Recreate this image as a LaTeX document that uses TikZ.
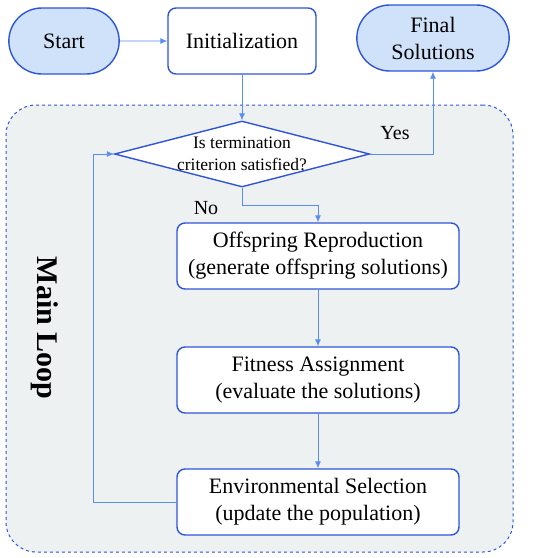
\documentclass[tikz,border=0pt]{standalone}
\usepackage{fontspec}
\setmainfont{Liberation Serif}
\newfontfamily\boxfont{Liberation Serif}
\usetikzlibrary{shapes.geometric,shapes.misc,arrows.meta,positioning}
\definecolor{boxblue}{HTML}{2E55D8}
\definecolor{flowblue}{HTML}{5A8CF5}
\definecolor{termfill}{HTML}{CFE2FA}
\definecolor{loopgray}{HTML}{EDF1F2}
\begin{document}
\begin{tikzpicture}[x=1pt,y=-1pt,
  term/.style={rounded rectangle, draw=boxblue, line width=1.4pt, fill=termfill,
    minimum height=66pt, align=center, font=\boxfont\fontsize{22}{27}\selectfont},
  proc/.style={rectangle, rounded corners=8pt, draw=boxblue, line width=1.4pt, fill=white,
    minimum height=66pt, align=center, font=\boxfont\fontsize{22}{27}\selectfont},
  flow/.style={draw=flowblue, line width=0.9pt, -{Latex[length=7pt,width=6pt]}},
  lab/.style={font=\boxfont\fontsize{20}{24}\selectfont}]
  \useasboundingbox (0,0) rectangle (539,558);
  %Main loop background
  \node[draw=boxblue, dashed, line width=1pt, fill=loopgray, rounded corners=30pt,
    minimum width=507pt, minimum height=447pt] (loop) at (259.5,328.5) {};
  \node[rotate=-90, font=\boxfont\fontsize{30}{34}\selectfont\bfseries] (looplabel) at (45,328) {Main Loop};

  %Start, initialization and final nodes
  \node[term, minimum width=117pt] (start) at (64,41) {Start};
  \node[proc, minimum width=148pt] (init) at (242,41) {Initialization};
  \node[term, minimum width=159pt] (final) at (433,38) {Final\\Solutions};

  %Termination check
  \node[diamond, draw=boxblue, line width=1.4pt, fill=white, inner sep=0pt,
    minimum width=255pt, minimum height=66pt] (check) at (242,154) {};
  \node[align=center, font=\boxfont\fontsize{17.5}{21.5}\selectfont] (checktext) at (check.center) {Is termination\\criterion satisfied?};

  %Loop steps
  \node[proc, minimum width=282pt] (offspring) at (318,256) {Offspring Reproduction\\(generate offspring solutions)};
  \node[proc, minimum width=282pt] (fitness) at (318,380) {Fitness Assignment\\(evaluate the solutions)};
  \node[proc, minimum width=282pt] (envsel) at (318,502) {Environmental Selection\\(update the population)};

  %Connectors
  \draw[flow] (start) -- (init);
  \draw[flow] (init) -- (check);
  \draw[flow] (check.east) -| (final.south);
  \draw[flow] (check.south) -- ++(0,18) -| (offspring.north);
  \draw[flow] (offspring) -- (fitness);
  \draw[flow] (fitness) -- (envsel);
  \draw[flow] (envsel.west) -- ++(-83,0) |- (check.west);
  \node[lab] (yes) at (395,133) {Yes};
  \node[lab] (no) at (206,208) {No};
\end{tikzpicture}
\end{document}
